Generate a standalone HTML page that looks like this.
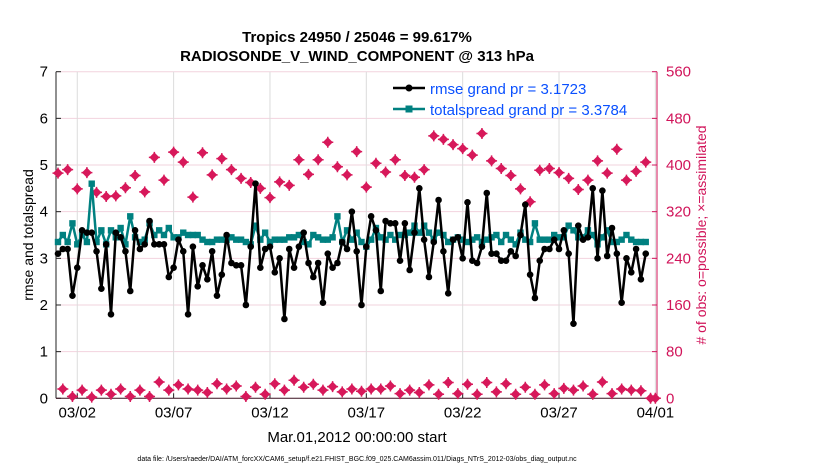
<!DOCTYPE html>
<html><head><meta charset="utf-8"><style>
body{margin:0;background:#fff;}
svg{font-family:"Liberation Sans",sans-serif;display:block}
</style></head><body>
<svg id="chart" width="830" height="470" viewBox="0 0 830 470">
<text x="357" y="42" text-anchor="middle" font-size="15" font-weight="bold">Tropics 24950 / 25046 = 99.617%</text>
<text x="357" y="61" text-anchor="middle" font-size="15" font-weight="bold">RADIOSONDE_V_WIND_COMPONENT @ 313 hPa</text>
<g id="grid"></g>
<g id="axes"></g>
<g id="marks"></g>
<text transform="translate(33,235) rotate(-90)" text-anchor="middle" font-size="14">rmse and totalspread</text>
<text transform="translate(706,235) rotate(-90)" text-anchor="middle" font-size="14" fill="#d1145a"># of obs: o=possible; ×=assimilated</text>
<text x="357" y="442" text-anchor="middle" font-size="15">Mar.01,2012 00:00:00 start</text>
<text x="357" y="461" text-anchor="middle" font-size="7">data file: /Users/raeder/DAI/ATM_forcXX/CAM6_setup/f.e21.FHIST_BGC.f09_025.CAM6assim.011/Diags_NTrS_2012-03/obs_diag_output.nc</text>
<g>
<line x1="393" y1="88" x2="425" y2="88" stroke="#000" stroke-width="2.5"/>
<circle cx="409" cy="88" r="3.5" fill="#000"/>
<text x="430" y="94" font-size="15" fill="#0a50ff">rmse grand pr = 3.1723</text>
<line x1="393" y1="109" x2="425" y2="109" stroke="#008080" stroke-width="2.5"/>
<rect x="405.5" y="105.5" width="7" height="7" fill="#008080"/>
<text x="430" y="115" font-size="15" fill="#0a50ff">totalspread grand pr = 3.3784</text>
</g>
</svg>
<script>
const rmse=[3.1,3.2,3.2,2.2,2.8,3.6,3.55,3.55,3.15,2.35,3.3,1.8,3.55,3.45,3.15,2.3,3.6,3.2,3.3,3.8,3.3,3.3,3.3,2.6,2.8,3.4,3.15,1.8,3.25,2.4,2.85,2.55,3.15,2.2,2.65,3.5,2.9,2.85,2.85,2.0,3.25,4.6,2.8,3.2,3.25,2.7,3.0,
1.7,3.2,2.8,3.25,3.55,2.9,2.6,2.9,2.05,3.1,2.8,2.9,3.35,3.2,4.0,3.15,2.0,3.25,3.9,3.6,2.3,3.8,3.75,3.75,2.95,3.75,2.75,3.55,4.5,3.4,2.6,3.35,4.25,3.15,2.25,3.4,3.45,3.0,4.2,2.95,2.9,3.25,4.4,3.1,
3.1,2.95,2.95,3.15,3.05,3.5,4.15,2.65,2.15,2.95,3.2,3.2,3.4,3.2,3.6,3.1,1.6,3.7,3.4,3.45,4.5,3.0,4.45,3.05,3.65,3.1,2.05,3.0,2.7,3.2,2.55,3.1];
const spread=[3.35,3.5,3.35,3.75,3.3,3.5,3.35,4.6,3.35,3.6,3.3,3.6,3.45,3.65,3.3,3.9,3.45,3.35,3.4,3.75,3.5,3.6,3.5,3.65,3.45,3.45,3.55,3.5,3.5,3.5,3.4,3.35,3.35,3.4,3.4,3.4,3.45,3.4,3.4,3.35,3.3,3.7,3.4,3.55,3.35,3.4,3.4,
3.4,3.45,3.45,3.5,3.35,3.3,3.5,3.45,3.4,3.4,3.45,3.9,3.35,3.6,3.4,3.55,3.35,3.25,3.4,3.65,3.45,3.4,3.5,3.4,3.5,3.5,3.55,3.7,3.55,3.7,3.55,3.4,3.55,3.5,3.35,3.4,3.45,3.4,3.35,3.4,3.45,3.35,3.4,3.45,3.5,
3.35,3.5,3.4,3.3,3.55,3.4,3.35,3.75,3.4,3.4,3.4,3.5,3.45,3.45,3.7,3.6,3.45,3.45,3.6,3.5,3.3,3.45,3.6,3.35,3.35,3.4,3.5,3.4,3.35,3.35,3.35];
const obsUpper=[386,392,359,387,353,346,347,361,382,354,413,374,422,405,345,421,383,411,392,377,370,360,344,371,365,409,384,409,439,397,383,423,362,403,388,409,382,379,392,450,444,435,428,417,454,407,394,382,359,337,391,394,387,377,358,374,407,386,427,374,389,405,0];
const obsLower=[16,3,14,2,14,7,16,3,14,3,28,14,23,16,14,10,25,16,21,3,19,7,25,14,31,19,24,14,20,11,16,12,16,16,21,8,14,10,23,7,27,8,24,7,27,11,25,7,19,7,23,8,17,14,21,7,28,8,16,14,13,0];
const yTicks=[0,1,2,3,4,5,6,7];
const y2Ticks=[0,80,160,240,320,400,480,560];
const xTickDays=[1,6,11,16,21,26,31];
const xTickLabels=["03/02","03/07","03/12","03/17","03/22","03/27","04/01"];

const NS="http://www.w3.org/2000/svg";
const L=56,R=657,T=71.7,B=398.3;
const xs=d=>58+19.27*d;
const ys=v=>B-(B-T)*v/7;
const ys2=c=>B-(B-T)*c/560;
function mk(tag,attrs,parent){const e=document.createElementNS(NS,tag);for(const k in attrs)e.setAttribute(k,attrs[k]);parent.appendChild(e);return e;}
const grid=document.getElementById('grid'),axes=document.getElementById('axes'),marks=document.getElementById('marks');

yTicks.forEach((v,i)=>{
  if(v>0){const g=mk('line',{x1:L,x2:R,y1:ys(v),y2:ys(v),stroke:'#f2d3de','stroke-width':1},grid);
  
  }
  const t=mk('text',{x:L-8,y:ys(v)+5,'text-anchor':'end','font-size':15},axes);t.textContent=v;
  
  
  mk('line',{x1:L,x2:L+5,y1:ys(v),y2:ys(v),stroke:'#222'},axes);
});
y2Ticks.forEach(c=>{
  const t=mk('text',{x:R+9,y:ys2(c)+5,'font-size':15,fill:'#d1145a'},axes);t.textContent=c;
  
  
  mk('line',{x1:R-5,x2:R,y1:ys2(c),y2:ys2(c),stroke:'#d1145a'},axes);
});
xTickDays.forEach((d,i)=>{
  const g=mk('line',{x1:xs(d),x2:xs(d),y1:T,y2:B,stroke:'#dcdcdc'},grid);
  
  
  mk('line',{x1:xs(d),x2:xs(d),y1:B,y2:B-5,stroke:'#222'},axes);
  const t=mk('text',{x:xs(d),y:B+19,'text-anchor':'middle','font-size':15},axes);t.textContent=xTickLabels[i];
  
  
});
mk('line',{x1:L,x2:L,y1:T,y2:B,stroke:'#222'},axes);
mk('line',{x1:L,x2:R,y1:B,y2:B,stroke:'#3a1020'},axes);
mk('line',{x1:R,x2:R,y1:T,y2:B,stroke:'#d1145a'},axes);

function obsMarker(x,y,name){
  const g=mk('g',{},marks);
  
  
  mk('path',{d:`M${x} ${y-5}L${x+5} ${y}L${x} ${y+5}L${x-5} ${y}Z`,fill:'#d7185a'},g);
  mk('path',{d:`M${x-5.5} ${y}H${x+5.5}M${x} ${y-5.5}V${y+5.5}`,stroke:'#d7185a','stroke-width':1.5},g);
}
obsUpper.forEach((c,k)=>{const i=2*k;obsMarker(xs(i*0.25),ys2(c),'obs-count-marker');});
obsLower.forEach((c,k)=>{const i=2*k+1;obsMarker(xs(i*0.25),ys2(c),'obs-count-marker');});

function series(vals,color,name,square){
  const p=mk('polyline',{points:vals.map((v,i)=>xs(i*0.25)+','+ys(v)).join(' '),fill:'none',stroke:color,'stroke-width':2.5,'stroke-linejoin':'round'},marks);
  
  
  vals.forEach((v,i)=>{
    const m=square?mk('rect',{x:xs(i*0.25)-3.2,y:ys(v)-3.2,width:6.4,height:6.4,fill:color},marks):mk('circle',{cx:xs(i*0.25),cy:ys(v),r:3.3,fill:color},marks);
    
    
  });
}
series(spread,'#008080','totalspread',true);
series(rmse,'#000','rmse',false);
</script>
</body></html>
